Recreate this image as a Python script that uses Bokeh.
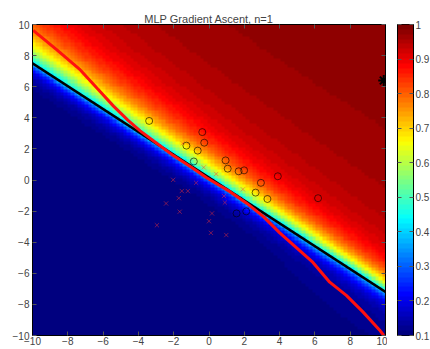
import numpy as np
from bokeh.plotting import figure
from bokeh.layouts import row
from bokeh.models import (LinearColorMapper, FixedTicker, LinearAxis,
                          CustomJSTickFormatter, Range1d)
from bokeh.embed import file_html
from bokeh.resources import INLINE

# ---------------- data ----------------
x_ticks = [-10, -8, -6, -4, -2, 0, 2, 4, 6, 8, 10]
y_ticks = [-10, -8, -6, -4, -2, 0, 2, 4, 6, 8, 10]
cbar_ticks = [0.1, 0.2, 0.3, 0.4, 0.5, 0.6, 0.7, 0.8, 0.9, 1.0]

# class "o" samples
circle_x = [-3.39, -0.38, -0.27, -1.28, -0.64, -0.86, 0.94, 1.06, 1.68, 1.99,
            3.90, 2.94, 2.64, 3.31, 6.18, 1.56, 2.11]
circle_y = [3.80, 3.08, 2.40, 2.21, 1.89, 1.19, 1.26, 0.73, 0.56, 0.62,
            0.24, -0.18, -0.81, -1.22, -1.17, -2.15, -2.02]

# class "x" samples
cross_x = [-2.03, -0.30, 0.41, -0.73, -1.54, -1.20, -1.71, -2.43, -1.66, -2.95,
           0.17, 0.00, 0.11, 0.98, 0.85, 0.90, 1.92, -1.49]
cross_y = [0.01, 0.81, 0.39, -0.18, -0.71, -0.71, -1.17, -1.51, -2.04, -2.91,
           -2.15, -2.65, -3.40, -3.54, -1.03, -1.45, -0.60, 2.36]

# gradient-ascent point
star_x = [9.9]
star_y = [6.4]

# black contour (MLP decision boundary)
boundary_x = [-10.0, 10.0]
boundary_y = [7.5, -7.2]

# red boundary line
red_x = [-9.96, -8.6, -7.29, -6.3, -5.41, -4.6, -3.9, -3.0, -2.02, -1.0, -0.13,
         0.6, 1.19, 2.13, 3.07, 4.01, 4.95, 5.89, 6.84, 7.78, 8.72, 9.66, 9.9]
red_y = [9.62, 8.35, 7.08, 5.85, 4.75, 3.85, 3.16, 2.40, 1.57, 0.82, 0.15,
         -0.35, -0.75, -1.49, -2.34, -3.40, -4.35, -5.30, -6.57, -7.42, -8.48, -9.64, -10.0]

# parameters of the plotted network output surface
slope, offset = 0.735, 0.2          # direction of the boundary
v_min, v_max = 0.1, 1.0             # colour range
s0, tau_low = 0.356, 0.45           # value at boundary, decay on low side
a_fast, tau_fast = 0.554, 0.85      # fast rise on high side
b_slow, tau_slow = 0.09, 8.0        # slow rise toward the far corner
spread_rate, spread_ref = 0.025, 9.2
glow_amp, glow_mid, glow_w, glow_tau = 0.04, 6.0, 2.0, 3.0
grid_n = 101
n_colors = 64

# ---------------- surface ----------------
xs = np.linspace(-10, 10, grid_n)
ys = np.linspace(-10, 10, grid_n)
X, Y = np.meshgrid(xs, ys)
norm = np.sqrt(1 + slope ** 2)
U = (slope * X + Y - offset) / norm
W = (X - slope * Y) / norm
scale = np.exp(-spread_rate * (W - spread_ref))
Ue = U / scale
Uneg = np.clip(U, None, 0)
high = 1 - a_fast * np.exp(-np.clip(Ue, 0, None) / tau_fast) - b_slow * np.exp(-np.clip(U, 0, None) / tau_slow)
low = s0 * np.exp(Uneg / tau_low) + \
    glow_amp / (1 + np.exp(-(W - glow_mid) / glow_w)) * np.exp(Uneg / glow_tau) * (1 - np.exp(Uneg / tau_low))
S = np.where(U >= 0, high, low)
Z = v_min + (v_max - v_min) * np.clip(S, 0, 1)

# jet colormap
def jet(n):
    cols = []
    for i in range(n):
        t = i / (n - 1)
        r = min(max(1.5 - abs(4 * t - 3), 0), 1)
        g = min(max(1.5 - abs(4 * t - 2), 0), 1)
        b = min(max(1.5 - abs(4 * t - 1), 0), 1)
        cols.append("#%02x%02x%02x" % (int(r * 255), int(g * 255), int(b * 255)))
    return cols

mapper = LinearColorMapper(palette=jet(n_colors), low=v_min, high=v_max)

FONT = "Liberation Sans"
FRAME_H = 311


def style_axis(ax, ticks, labels=True, size="10px", standoff=3):
    ax.ticker = FixedTicker(ticks=ticks)
    ax.major_tick_in = 4
    ax.major_tick_out = 0
    ax.minor_tick_line_color = None
    ax.axis_line_color = "black"
    ax.major_tick_line_color = "#555555"
    ax.major_label_text_font = FONT
    ax.major_label_text_font_size = size
    ax.major_label_standoff = standoff
    if not labels:
        ax.formatter = CustomJSTickFormatter(code="return ''")
        ax.major_label_text_font_size = "0px"
        ax.major_label_standoff = 0


# ---------------- main plot ----------------
fig = figure(frame_width=353, frame_height=FRAME_H, output_backend="svg", toolbar_location=None,
             x_range=Range1d(-10, 10), y_range=Range1d(-10, 10),
             min_border_left=32, min_border_right=2, min_border_top=24, min_border_bottom=0,
             title="MLP Gradient Ascent, n=1")
fig.title.align = "center"
fig.title.text_font = FONT
fig.title.text_font_size = "11px"
fig.title.text_font_style = "normal"
fig.title.vertical_align = "bottom"
fig.title.text_line_height = 1.8
fig.title.standoff = 0
fig.grid.visible = False
fig.outline_line_color = "black"

fig.image(image=[Z], x=-10, y=-10, dw=20, dh=20, color_mapper=mapper)
fig.line(boundary_x, boundary_y, line_color="black", line_width=2.5)
fig.line(red_x, red_y, line_color="#ff1010", line_width=3)
fig.scatter(circle_x, circle_y, marker="circle", size=7, fill_color=None,
            line_color="black", line_alpha=0.6, line_width=1)
fig.scatter(cross_x, cross_y, marker="x", size=6, line_color="#ff3030",
            line_alpha=0.45, line_width=1)
fig.scatter(star_x, star_y, marker="asterisk", size=11, line_color="black", line_width=2)

style_axis(fig.xaxis[0], x_ticks, standoff=1)
style_axis(fig.yaxis[0], y_ticks, standoff=3)
top_ax = LinearAxis()
style_axis(top_ax, x_ticks, labels=False)
fig.add_layout(top_ax, "above")
right_ax = LinearAxis()
style_axis(right_ax, y_ticks, labels=False)
fig.add_layout(right_ax, "right")

# ---------------- colour bar ----------------
cbar_levels = np.linspace(v_min, v_max, n_colors).reshape(n_colors, 1)
cbf = figure(frame_width=16, frame_height=FRAME_H, output_backend="svg", toolbar_location=None,
             x_range=Range1d(0, 1), y_range=Range1d(v_min, v_max),
             x_axis_location=None, y_axis_location="right",
             min_border_left=10, min_border_right=0, min_border_top=24, min_border_bottom=8)
cbf.grid.visible = False
cbf.outline_line_color = "black"
cbf.image(image=[cbar_levels], x=0, y=v_min, dw=1, dh=v_max - v_min, color_mapper=mapper)
style_axis(cbf.yaxis[0], cbar_ticks, standoff=2)
cbf.yaxis[0].formatter = CustomJSTickFormatter(code="return tick.toFixed(1).replace(/\\.0$/, '')")
cb_left = LinearAxis()
style_axis(cb_left, cbar_ticks, labels=False)
cbf.add_layout(cb_left, "left")

p = row(fig, cbf)

open("out.html", "w").write(file_html(p, INLINE))
